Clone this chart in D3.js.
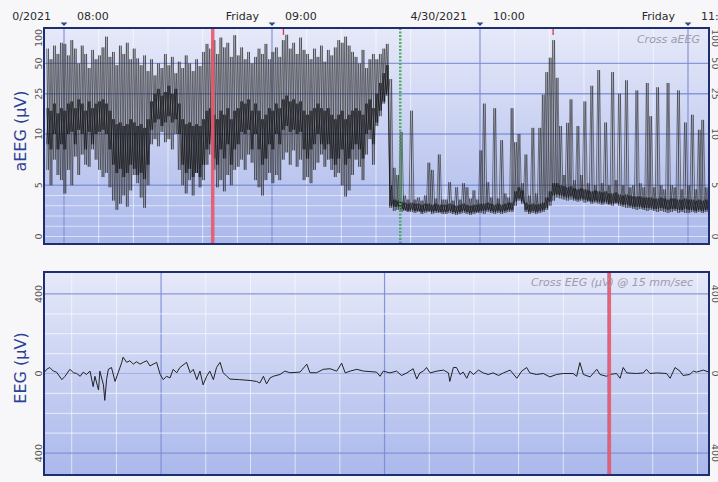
<!DOCTYPE html>
<html><head><meta charset="utf-8">
<script src="https://cdn.jsdelivr.net/npm/d3@7"></script>
<style>
html,body{margin:0;padding:0;background:#f7f7f9;overflow:hidden;}
svg{display:block;font-family:"DejaVu Sans",Verdana,sans-serif;}
</style></head><body>
<svg id="c" width="718" height="482"></svg>
<script>
// ---------------- data ----------------
// time axis of the aEEG panel, minutes after 08:00
const aeegDomain = [-5.77, 186.06];
const hourTicks = [0, 60, 120, 180];
const hourLabels = ["08:00", "09:00", "10:00", "11:00"];
const dateLabels = ["4/30/2021", "Friday", "4/30/2021", "Friday"];
const aeegStartMin = -5; // first one-minute bin
const aeegMax = [70,55,75,62,80,
 78,60,85,70,50,75,62,45,68,55,
 60,72,92,58,65,48,75,62,80,55,
 70,56,48,60,42,55,38,50,45,62,
 48,58,40,52,45,60,50,42,55,47,
 65,78,70,85,62,90,72,80,58,95,
 60,72,55,65,50,58,70,62,78,55,
 65,72,58,85,96,70,80,62,90,68,
 62,55,70,58,75,52,68,60,72,85,
 80,92,75,65,58,50,68,45,55,62,
 55,62,70,78,35,6.7,6,10.5,4,3.6,
 17,3.6,3.8,3.5,4,7.2,6.5,3.7,8,3.6,
 3.6,5.3,3.5,4.8,3.6,5.2,4.8,3.7,4.5,3.6,
 8.4,20,5.3,3.8,18,3.7,9.4,4.2,3.8,18,
 9.2,10,5.2,8,4,11.5,4.2,11.5,24.5,41,
 57,85,36,12,6,12.9,22,5.5,12,6,
 21,5.2,30,5,43,5.2,13,5,41,5.5,
 25,5,34,4.8,5,27,5.2,4.8,32,15,
 4.8,29,5,4.6,32,5,4.8,27,4.6,13,
 5,15.5,4.6,11,13.8,4.8,4.5];
const aeegMin = [6.5,5,7.5,6,5.5,
 4.2,6.5,5,7.8,6,8,7,6.8,8.5,7.5,
 6.5,5.8,6.2,4.8,3.5,2.6,3.2,4,2.9,4.5,
 6,5.2,3.8,2.8,5,9,9.5,8.8,10.5,9.2,
 9.5,8.5,10,6.5,5,4.2,5.5,4,6.2,4.8,
 5.5,7,8,6.5,4.8,5.5,4.4,6,5,6.5,
 6.8,7.5,6.5,8,7.2,5.5,4.8,4,5.5,6.2,
 5.2,6,5.5,7.5,8.2,7,8.4,6.8,7.5,5.5,
 5.8,5.2,6.5,7.2,8,6.8,7.5,6.5,5.8,6.2,
 5,3.9,4.5,6,7.5,6.8,5.5,8,9.5,7,
 12,15,20,24,2.8,2.5,2.6,2.4,2.5,2.4,
 2.4,2.3,2.4,2.2,2.3,2.4,2.2,2.3,2.3,2.2,
 2.2,2.3,2.2,2.1,2.2,2.3,2.2,2.1,2.2,2.3,
 2.3,2.2,2.4,2.3,2.2,2.3,2.2,2.3,2.4,2.4,
 3,3.5,3.2,2.4,2.2,2.3,2.2,2.3,2.4,2.6,
 3,3.5,3.8,3.7,3.6,3.5,3.6,3.5,3.4,3.5,
 3.3,3.4,3.2,3.3,3.2,3.1,3.2,3.1,3.0,3.2,
 3.0,2.9,2.8,2.8,2.7,2.6,2.7,2.6,2.5,2.6,
 2.5,2.4,2.5,2.4,2.3,2.4,2.5,2.3,2.4,2.3,
 2.3,2.4,2.3,2.4,2.3,2.4,2.3];
const aeegCoreHi = [18,17,20,16,18,
 17,20,21,18,22,20,17,21,18,20,
 21,22,20,17,14,12.5,13,12,12.5,14,
 13,12,12.5,11.5,14,21,25,28,24,26,
 30,25,28,20,14,12.5,13,12,12.5,12,
 14,17,18,15.5,14,17,15.5,18,14,17,
 18,21,20,22,17,20,17,14,15.5,18,
 17,20,18,22,24,21,22,20,21,17,
 15.5,17,18,20,18,17,18,15.5,14,15.5,
 17,14,15.5,17,18,17,15.5,20,22,18,
 25,32,40,48,5,3.6,3.5,3.4,3.3,3.2,
 3.3,3.2,3.2,3.1,3.2,3.2,3.1,3.2,3.1,3.1,
 3.1,3.2,3.1,3.0,3.1,3.2,3.1,3.0,3.1,3.1,
 3.2,3.2,3.3,3.2,3.1,3.2,3.1,3.2,3.3,3.3,
 4.4,4.8,4.5,3.3,3.1,3.2,3.1,3.2,3.3,3.8,
 4.4,5.2,5.2,5.0,4.9,4.8,4.9,4.7,4.6,4.7,
 4.6,4.5,4.4,4.5,4.4,4.3,4.4,4.2,4.2,4.3,
 4.1,4.0,4.1,4.0,3.9,3.9,3.9,3.8,3.8,3.8,
 3.7,3.7,3.8,3.7,3.6,3.7,3.7,3.6,3.6,3.7,
 3.6,3.6,3.5,3.6,3.5,3.6,3.5];
const aeegCoreLo = [9,8.5,10,8.5,9,
 8.5,10,10.5,9,11,10,8.5,10.5,9,10,
 10.5,11,10,8.5,7,6.2,6.6,5.8,6.2,7,
 6.6,6,6.2,5.6,7,11,13,14,12,13,
 15,13,14,10,7,6.2,6.6,5.8,6.2,5.8,
 7,8.5,9,7.6,7,8.5,7.6,9,7,8.5,
 9,10.5,10,11,8.5,10,8.5,7,7.6,9,
 8.5,10,9,11,12,10.5,11,10,10.5,8.5,
 7.6,8.5,9,10,9,8.5,9,7.6,7,7.6,
 8.5,7,7.6,8.5,9,8.5,7.6,10,11,9,
 13,17,21,25,3.0,2.9,2.9,2.7,2.6,2.5,
 2.6,2.5,2.5,2.4,2.5,2.5,2.4,2.5,2.4,2.4,
 2.4,2.5,2.4,2.3,2.4,2.5,2.4,2.3,2.4,2.4,
 2.5,2.5,2.6,2.5,2.4,2.5,2.4,2.5,2.6,2.6,
 3.4,3.7,3.4,2.6,2.4,2.5,2.4,2.5,2.6,2.8,
 3.4,4.0,4.1,4.0,3.9,3.8,3.9,3.7,3.6,3.7,
 3.6,3.5,3.4,3.5,3.4,3.3,3.4,3.2,3.2,3.3,
 3.2,3.1,3.1,3.0,2.9,2.9,2.9,2.8,2.8,2.8,
 2.7,2.7,2.8,2.7,2.6,2.7,2.7,2.6,2.6,2.7,
 2.6,2.6,2.5,2.6,2.5,2.6,2.5];
const aeegTicks = [0, 5, 10, 25, 50, 100];
const aeegGridMajor = [5, 10, 25, 50];
const aeegGridMinor = [0, 1, 2, 3, 4];
const redCursorMin = 42.9;
const greenMarkMin = 97.0;
const eventMarksMin = [63.3, 141.1];

// EEG panel, seconds
const eegDomain = [2.38, 17.26];
const eegT = [2.38,2.44,2.51,2.59,2.66,2.78,2.85,2.96,3.04,3.11,
 3.19,3.26,3.33,3.41,3.48,3.52,3.60,3.63,3.71,3.74,
 3.78,3.82,3.89,3.97,4.04,4.12,4.15,4.23,4.30,4.38,
 4.45,4.53,4.60,4.68,4.75,4.90,4.98,5.05,5.12,5.20,
 5.27,5.35,5.42,5.57,5.65,5.72,5.80,5.87,5.94,6.02,
 6.09,6.17,6.24,6.32,6.39,6.47,6.54,6.76,6.99,7.14,
 7.21,7.29,7.36,7.44,7.51,7.66,7.77,7.88,8.11,8.26,
 8.33,8.48,8.63,8.78,8.93,9.04,9.12,9.23,9.38,9.53,
 9.82,9.90,9.97,10.12,10.27,10.38,10.50,10.64,10.72,10.79,
 10.87,10.94,11.02,11.17,11.32,11.43,11.46,11.54,11.61,11.69,
 11.76,11.84,11.91,11.99,12.10,12.21,12.32,12.43,12.55,12.66,
 12.81,12.96,13.07,13.18,13.25,13.40,13.55,13.70,13.85,14.00,
 14.22,14.30,14.37,14.45,14.60,14.75,14.82,14.97,15.04,15.19,
 15.27,15.34,15.42,15.64,15.79,15.86,15.94,16.09,16.31,16.39,
 16.50,16.61,16.68,16.83,16.91,16.98,17.13,17.26];
const eegV = [4,21,30,12,7,-31,-14,21,4,0,
 -14,7,-5,12,-66,-14,-83,12,-57,-135,
 -31,21,30,-40,4,56,82,56,64,47,
 59,47,56,64,38,56,-5,-31,-14,-22,
 21,4,30,56,4,21,-31,12,-57,-14,
 12,-31,30,56,4,-14,-28,-31,-35,-40,
 -48,-14,-52,-22,-14,-5,12,4,7,47,
 4,4,21,24,12,52,3,12,21,12,
 7,-14,12,3,12,-10,3,24,-28,3,
 12,30,3,12,17,3,-40,30,30,-5,
 7,-24,12,-5,17,3,-5,3,-10,3,
 17,-24,12,30,3,-5,0,-17,-5,0,
 0,-14,55,-5,-17,21,-5,-14,-5,0,
 -24,30,3,0,3,21,0,3,0,-24,
 30,12,-10,-5,12,7,17,7];
const eegValueDomain = [-510, 510];
const eegTicks = [-400, 0, 400];
const eegGridMajor = [-400, 400];
const eegGridMinor = [-300, -200, -100, 0, 100, 200, 300];
const eegCursorSec = 15.03;

// ---------------- layout ----------------
const svg = d3.select("#c");
const W = 718, H = 482;
const A = {x0: 44, x1: 709, y0: 28, y1: 244};
const E = {x0: 44, x1: 709, y0: 272, y1: 475};
const MAJOR = "#7b8cd6", MINOR = "#ffffff";

svg.append("rect").attr("width", W).attr("height", H).attr("fill", "#f7f7f9");

const defs = svg.append("defs");
const g1 = defs.append("linearGradient").attr("id", "bg").attr("x1", 0).attr("y1", 0).attr("x2", 0).attr("y2", 1);
g1.append("stop").attr("offset", 0).attr("stop-color", "#e6e9f9");
g1.append("stop").attr("offset", 1).attr("stop-color", "#aab8eb");
defs.append("clipPath").attr("id", "clipA").append("rect")
  .attr("x", A.x0).attr("y", A.y0).attr("width", A.x1 - A.x0).attr("height", A.y1 - A.y0);
defs.append("clipPath").attr("id", "clipE").append("rect")
  .attr("x", E.x0).attr("y", E.y0).attr("width", E.x1 - E.x0).attr("height", E.y1 - E.y0);
defs.append("clipPath").attr("id", "clipTop").append("rect")
  .attr("x", 12).attr("y", 0).attr("width", W - 12).attr("height", 27);

// ---------------- scales ----------------
const xA = d3.scaleLinear().domain(aeegDomain).range([A.x0, A.x1]);
const yLin = d3.scaleLinear().domain([0, 10]).range([A.y1 - 7.5, A.y1 - 110]);
const yLog = d3.scaleLog().domain([10, 100]).range([A.y1 - 110, A.y1 - 211]);
const yA = v => v <= 10 ? yLin(v) : yLog(v);
const xE = d3.scaleLinear().domain(eegDomain).range([E.x0, E.x1]);
const yE = d3.scaleLinear().domain(eegValueDomain).range([E.y1, E.y0]);

// ---------------- panel backgrounds ----------------
[A, E].forEach(p => svg.append("rect").attr("x", p.x0).attr("y", p.y0)
  .attr("width", p.x1 - p.x0).attr("height", p.y1 - p.y0).attr("fill", "url(#bg)"));

// ---------------- aEEG grid ----------------
const gA = svg.append("g").attr("clip-path", "url(#clipA)");
d3.range(0, 190, 10).forEach(m => {
  const major = m % 60 === 0;
  gA.append("line").attr("x1", xA(m)).attr("x2", xA(m)).attr("y1", A.y0).attr("y2", A.y1)
    .attr("stroke", major ? MAJOR : MINOR).attr("stroke-width", major ? 1.2 : 1)
    .attr("opacity", major ? 0.9 : 0.6);
});
aeegGridMinor.forEach(v => gA.append("line").attr("x1", A.x0).attr("x2", A.x1)
  .attr("y1", yA(v)).attr("y2", yA(v)).attr("stroke", MINOR).attr("stroke-width", 1.2).attr("opacity", 0.55));
aeegGridMajor.forEach(v => gA.append("line").attr("x1", A.x0).attr("x2", A.x1)
  .attr("y1", yA(v)).attr("y2", yA(v)).attr("stroke", MAJOR).attr("stroke-width", 1.4).attr("opacity", 0.85));

// ---------------- aEEG trace ----------------
function zig(hi, lo, offset) {
  const pts = [];
  hi.forEach((h, i) => {
    const m = aeegStartMin + i;
    const a = offset ? lo[i] : h, b = offset ? h : lo[i];
    pts.push([xA(m), yA(a)]);
    pts.push([xA(m + 0.5), yA(b)]);
  });
  return d3.line()(pts);
}
[0, 1].forEach(o => gA.append("path").attr("d", zig(aeegMax, aeegMin, o))
  .attr("fill", "none").attr("stroke", "#2e2e2e").attr("stroke-width", 0.9).attr("opacity", 0.65));
[0, 1].forEach(o => gA.append("path").attr("d", zig(aeegCoreHi, aeegCoreLo, o))
  .attr("fill", "none").attr("stroke", "#0a0a0a").attr("stroke-width", 1).attr("opacity", 0.55));

// event markers
gA.append("rect").attr("x", xA(redCursorMin) - 1.75).attr("y", A.y0).attr("width", 3.5)
  .attr("height", A.y1 - A.y0).attr("fill", "#e8586a").attr("opacity", 0.9);
gA.append("line").attr("x1", xA(greenMarkMin)).attr("x2", xA(greenMarkMin)).attr("y1", A.y0).attr("y2", A.y1)
  .attr("stroke", "#45a852").attr("stroke-width", 2.5).attr("stroke-dasharray", "2,1.5").attr("opacity", 0.9);
eventMarksMin.forEach(m => gA.append("line").attr("x1", xA(m)).attr("x2", xA(m))
  .attr("y1", A.y0).attr("y2", A.y0 + 7).attr("stroke", "#e03545").attr("stroke-width", 1.3));

gA.append("text").attr("x", 700).attr("y", 43).attr("text-anchor", "end")
  .attr("font-size", 11).attr("font-style", "italic").attr("fill", "#9c9cab").text("Cross aEEG");

// ---------------- EEG grid ----------------
const gE = svg.append("g").attr("clip-path", "url(#clipE)");
d3.range(3, 18, 1).forEach(s => {
  const major = s % 5 === 0;
  gE.append("line").attr("x1", xE(s)).attr("x2", xE(s)).attr("y1", E.y0).attr("y2", E.y1)
    .attr("stroke", major ? MAJOR : MINOR).attr("stroke-width", major ? 1.2 : 1)
    .attr("opacity", major ? 0.9 : 0.6);
});
eegGridMinor.forEach(v => gE.append("line").attr("x1", E.x0).attr("x2", E.x1)
  .attr("y1", yE(v)).attr("y2", yE(v)).attr("stroke", v === 0 ? MAJOR : MINOR)
  .attr("stroke-width", 1.2).attr("opacity", v === 0 ? 0.45 : 0.55));
eegGridMajor.forEach(v => gE.append("line").attr("x1", E.x0).attr("x2", E.x1)
  .attr("y1", yE(v)).attr("y2", yE(v)).attr("stroke", MAJOR).attr("stroke-width", 1.4).attr("opacity", 0.85));

gE.append("path").datum(eegT.map((t, i) => [t, eegV[i]]))
  .attr("d", d3.line().x(d => xE(d[0])).y(d => yE(d[1])))
  .attr("fill", "none").attr("stroke", "#222").attr("stroke-width", 1);

gE.append("rect").attr("x", xE(eegCursorSec) - 1.75).attr("y", E.y0).attr("width", 3.5)
  .attr("height", E.y1 - E.y0).attr("fill", "#e8586a").attr("opacity", 0.9);

gE.append("text").attr("x", 693).attr("y", 286).attr("text-anchor", "end")
  .attr("font-size", 11).attr("font-style", "italic").attr("fill", "#9c9cab")
  .text("Cross EEG (\u00b5V) @ 15 mm/sec");

// ---------------- borders ----------------
[A, E].forEach(p => svg.append("rect").attr("x", p.x0).attr("y", p.y0)
  .attr("width", p.x1 - p.x0).attr("height", p.y1 - p.y0)
  .attr("fill", "none").attr("stroke", "#1f2e6c").attr("stroke-width", 2));

// ---------------- top time axis ----------------
const gT = svg.append("g").attr("clip-path", "url(#clipTop)");
hourTicks.forEach((h, i) => {
  const x = xA(h);
  gT.append("path").attr("d", `M${x - 3.5},22.5L${x + 3.5},22.5L${x},26Z`).attr("fill", "#2d4b8e");
  gT.append("text").attr("x", x + 13).attr("y", 20).attr("font-size", 11).attr("fill", "#2a2a2a").text(hourLabels[i]);
  gT.append("text").attr("x", x - 13).attr("y", 20).attr("text-anchor", "end").attr("font-size", 11)
    .attr("fill", "#2a2a2a").text(dateLabels[i]);
});

// ---------------- y tick labels ----------------
function vLabel(x, y, rot, txt) {
  svg.append("text").attr("x", x).attr("y", y).attr("text-anchor", "middle")
    .attr("transform", `rotate(${rot},${x},${y})`).attr("font-size", 9.5).attr("fill", "#555").text(txt);
}
aeegTicks.forEach(v => {
  const y = Math.max(yA(v), A.y0 + 10);
  vLabel(42, y, -90, v);
  vLabel(712, y, 90, v);
});
eegTicks.forEach(v => {
  const y = Math.min(Math.max(yE(v), E.y0 + 10), E.y1 - 10);
  vLabel(42, y, -90, Math.abs(v));
  vLabel(712, y, 90, Math.abs(v));
});

// ---------------- axis titles ----------------
function title(y, txt) {
  svg.append("text").attr("x", 26).attr("y", y).attr("text-anchor", "middle")
    .attr("transform", `rotate(-90,26,${y})`).attr("font-size", 16).attr("fill", "#2b3f94").text(txt);
}
title(131, "aEEG (\u00b5V)");
title(368, "EEG (\u00b5V)");
</script>
</body></html>
